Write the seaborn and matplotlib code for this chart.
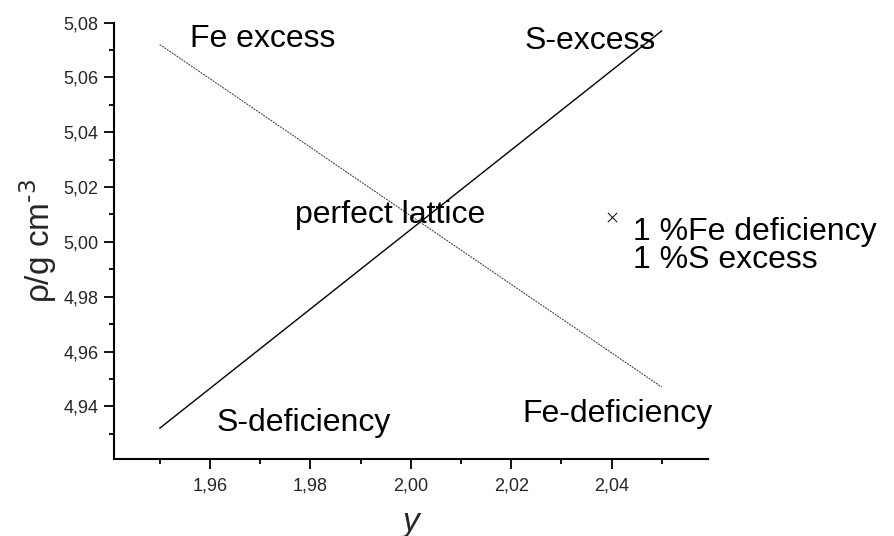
import numpy as np
import pandas as pd
import matplotlib
matplotlib.use("Agg")
import matplotlib.pyplot as plt
from matplotlib.ticker import MultipleLocator, FuncFormatter
import seaborn as sns

# stoichiometry y and density rho (g cm^-3)
y_vals = [1.95, 2.00, 2.05]
rho_s_line = [4.932, 5.0045, 5.077]    # S excess / S deficiency
rho_fe_line = [5.072, 5.0095, 4.947]   # Fe excess / Fe deficiency
point_x = [2.04]
point_y = [5.009]

labels = ["Fe excess", "S-excess", "perfect lattice", "S-deficiency", "Fe-deficiency",
          "1 %Fe deficiency", "1 %S excess"]
label_x = [1.9561, 2.0226, 1.9770, 1.9614, 2.0222, 2.0442, 2.0442]
label_y = [5.0710, 5.0705, 5.0070, 4.9310, 4.9343, 5.0005, 4.9906]

sns.set_theme(style="ticks")
plt.rcParams['font.family'] = ['Liberation Sans', 'DejaVu Sans']

df_s = pd.DataFrame({"y": y_vals, "rho": rho_s_line})
df_fe = pd.DataFrame({"y": y_vals, "rho": rho_fe_line})

fig = plt.figure(figsize=(8.94, 5.36), dpi=100)
ax = fig.add_axes([0.1275, 0.1437, 0.6645, 0.8143])

sns.lineplot(data=df_s, x="y", y="rho", color="black", linewidth=1.0, ax=ax)
sns.lineplot(data=df_fe, x="y", y="rho", color="#333333", linewidth=0.7,
             linestyle=(0, (2, 1)), ax=ax)
sns.scatterplot(x=point_x, y=point_y, marker="x", color="black", s=45,
                linewidth=0.7, ax=ax)

for t, tx, ty in zip(labels, label_x, label_y):
    ax.text(tx, ty, t, fontsize=23, ha="left", va="baseline", color="black")

ax.set_xlim(1.9409, 2.0592)
ax.set_ylim(4.9208, 5.08)
ax.xaxis.set_major_locator(MultipleLocator(0.02))
ax.xaxis.set_minor_locator(MultipleLocator(0.01))
ax.yaxis.set_major_locator(MultipleLocator(0.02))
ax.yaxis.set_minor_locator(MultipleLocator(0.01))
comma = FuncFormatter(lambda v, p: f"{v:.2f}".replace(".", ","))
ax.xaxis.set_major_formatter(comma)
ax.yaxis.set_major_formatter(comma)
ax.tick_params(which="major", direction="out", length=7, width=1.3,
               labelsize=13, color="black")
ax.tick_params(axis="y", which="major", pad=4)
ax.tick_params(axis="x", which="major", pad=6)
ax.tick_params(which="minor", direction="out", length=3.6, width=1.3, color="black")

ax.set_xlabel("y", fontsize=24, style="italic", labelpad=9)
ax.set_ylabel(r"ρ/g cm$^{\text{-3}}$", fontsize=24, labelpad=3)

for s in ("top", "right"):
    ax.spines[s].set_visible(False)
for s in ("left", "bottom"):
    ax.spines[s].set_linewidth(1.5)
    ax.spines[s].set_color("black")

fig.savefig("out.png", dpi=100)
